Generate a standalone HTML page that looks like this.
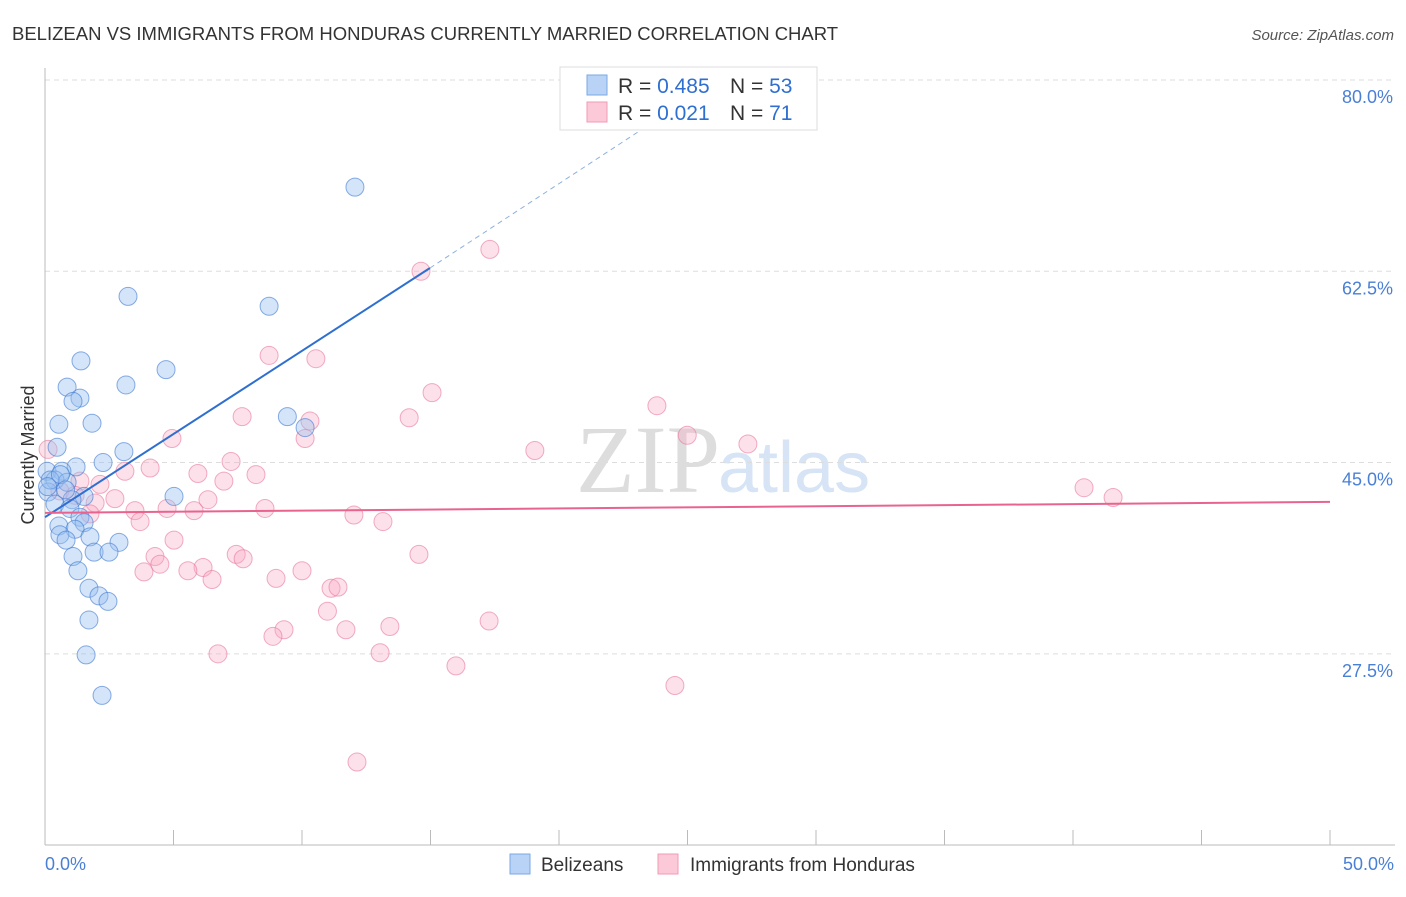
<!DOCTYPE html>
<html><head><meta charset="utf-8"><style>
body{margin:0;background:#fff;font-family:"Liberation Sans",sans-serif;}
</style></head><body>
<svg width="1406" height="892" xmlns="http://www.w3.org/2000/svg">
<text x="12" y="40" font-size="18.5" fill="#333">BELIZEAN VS IMMIGRANTS FROM HONDURAS CURRENTLY MARRIED CORRELATION CHART</text>
<text x="1394" y="40" font-size="15" fill="#555" font-style="italic" text-anchor="end">Source: ZipAtlas.com</text>
<text x="720" y="492" font-size="96" fill="#ddd" font-family="Liberation Serif" text-anchor="end">ZIP</text>
<text x="718" y="492" font-size="72" fill="#d6e4f5">atlas</text>
<g id="grid"></g>
<line x1="45" y1="68" x2="45" y2="845" stroke="#bbb"/>
<line x1="45" y1="845" x2="1395" y2="845" stroke="#bbb"/>
<g id="xt"></g>
<text x="45" y="870" font-size="18" fill="#4a7fd6">0.0%</text>
<text x="1394" y="870" font-size="18" fill="#4a7fd6" text-anchor="end">50.0%</text>
<text transform="translate(34,455) rotate(-90)" font-size="18" fill="#333" text-anchor="middle">Currently Married</text>
<g id="pts"></g>
<g id="lines"></g>
<g>
<rect x="560" y="67" width="257" height="63" fill="#fff" stroke="#ddd"/>
<rect x="587" y="75" width="20" height="20" fill="#b8d3f5" stroke="#7aa8e6"/>
<rect x="587" y="102" width="20" height="20" fill="#fbc9d8" stroke="#f09ab5"/>
<text x="618" y="93" font-size="21" fill="#333">R = <tspan fill="#2f6fd0">0.485</tspan></text>
<text x="730" y="93" font-size="21" fill="#333">N = <tspan fill="#2f6fd0">53</tspan></text>
<text x="618" y="120" font-size="21" fill="#333">R = <tspan fill="#2f6fd0"> 0.021</tspan></text>
<text x="730" y="120" font-size="21" fill="#333">N = <tspan fill="#2f6fd0"> 71</tspan></text>
</g>
<g>
<rect x="510" y="854" width="20" height="20" fill="#b8d3f5" stroke="#7aa8e6"/>
<text x="541" y="871" font-size="19" fill="#333">Belizeans</text>
<rect x="658" y="854" width="20" height="20" fill="#fbc9d8" stroke="#f09ab5"/>
<text x="690" y="871" font-size="19" fill="#333">Immigrants from Honduras</text>
</g>
</svg>
<script>
const yTicks=[80,62.5,45,27.5];
const blueX=[12.06,3.23,8.72,1.40,4.71,0.86,3.15,1.36,1.09,9.43,0.54,1.83,10.12,0.47,3.07,2.26,1.21,0.08,0.66,0.39,0.86,0.12,1.52,5.02,1.05,0.39,0.97,1.36,1.52,0.54,1.17,0.58,1.75,0.82,2.88,1.91,2.49,1.09,1.28,1.71,2.10,2.45,1.71,1.60,2.22,0.2,0.6,0.1,0.8];
const blueY=[70.2,60.2,59.3,54.3,53.5,51.9,52.1,50.9,50.6,49.2,48.5,48.6,48.2,46.4,46.0,45.0,44.6,44.2,44.2,43.4,43.2,42.3,41.9,41.9,41.6,41.2,40.8,40.0,39.5,39.2,38.9,38.4,38.2,37.9,37.7,36.8,36.8,36.4,35.1,33.5,32.8,32.3,30.6,27.4,23.7,43.4,43.9,42.8,42.5];
const pinkX=[17.31,14.63,8.72,10.54,15.06,23.81,7.67,14.17,10.31,4.94,24.99,10.12,27.35,19.06,0.12,7.24,4.09,3.11,5.95,8.21,6.96,1.36,2.14,40.43,0.58,1.17,6.34,41.56,2.72,1.95,8.56,4.75,5.80,3.50,12.02,1.75,3.70,13.15,5.02,14.55,7.44,4.28,7.71,4.47,3.85,6.15,5.56,10.0,6.50,8.99,11.13,11.40,10.99,17.28,13.42,9.30,11.71,8.87,6.73,13.04,15.99,24.51,12.14];
const pinkY=[64.5,62.5,54.8,54.5,51.4,50.2,49.2,49.1,48.8,47.2,47.5,47.2,46.7,46.1,46.2,45.1,44.5,44.2,44.0,43.9,43.3,43.3,43.0,42.7,42.4,42.0,41.6,41.8,41.7,41.3,40.8,40.8,40.6,40.6,40.2,40.3,39.6,39.6,37.9,36.6,36.6,36.4,36.2,35.7,35.0,35.4,35.1,35.1,34.3,34.4,33.5,33.6,31.4,30.5,30.0,29.7,29.7,29.1,27.5,27.6,26.4,24.6,17.6];
const blueLine=[[0,40.0],[14.98,62.8]];
const blueDash=[[14.98,62.8],[23.5,75.9]];
const pinkLine=[[0,40.4],[50,41.4]];
const X=v=>45+v/50*1285;
const Y=v=>80+(80-v)*10.93;
const NS="http://www.w3.org/2000/svg";
function mk(t,a,p){const e=document.createElementNS(NS,t);for(const k in a)e.setAttribute(k,a[k]);document.getElementById(p).appendChild(e);return e;}
yTicks.forEach(t=>{
 const l=mk('line',{x1:45,x2:1395,y1:Y(t),y2:Y(t),stroke:'#ddd','stroke-dasharray':'5,4'},'grid');
 
 
 const tx=mk('text',{x:1393,y:Y(t)+23,'font-size':18,fill:'#4a7fd6','text-anchor':'end'},'grid');
 tx.textContent=t.toFixed(1)+'%';
 
 
});
for(let i=0;i<=10;i++){
 const l=mk('line',{x1:X(i*5),x2:X(i*5),y1:830,y2:845,stroke:'#bbb'},'xt');
 
 
}
pinkX.forEach((x,i)=>{
 const c=mk('circle',{cx:X(x),cy:Y(pinkY[i]),r:9,fill:'rgba(248,170,195,0.35)',stroke:'rgba(232,120,155,0.6)','stroke-width':1},'pts');
 
 
});
blueX.forEach((x,i)=>{
 const c=mk('circle',{cx:X(x),cy:Y(blueY[i]),r:9,fill:'rgba(150,190,240,0.4)',stroke:'rgba(60,120,210,0.6)','stroke-width':1},'pts');
 
 
});
const bl=mk('line',{x1:X(blueLine[0][0]),y1:Y(blueLine[0][1]),x2:X(blueLine[1][0]),y2:Y(blueLine[1][1]),stroke:'#2f6fd0','stroke-width':2},'lines');


const bd=mk('line',{x1:X(blueDash[0][0]),y1:Y(blueDash[0][1]),x2:X(blueDash[1][0]),y2:Y(blueDash[1][1]),stroke:'#8fb0dd','stroke-width':1,'stroke-dasharray':'5,4'},'lines');


const pl=mk('line',{x1:X(pinkLine[0][0]),y1:Y(pinkLine[0][1]),x2:X(pinkLine[1][0]),y2:Y(pinkLine[1][1]),stroke:'#e8648f','stroke-width':2},'lines');


</script>
</body></html>
